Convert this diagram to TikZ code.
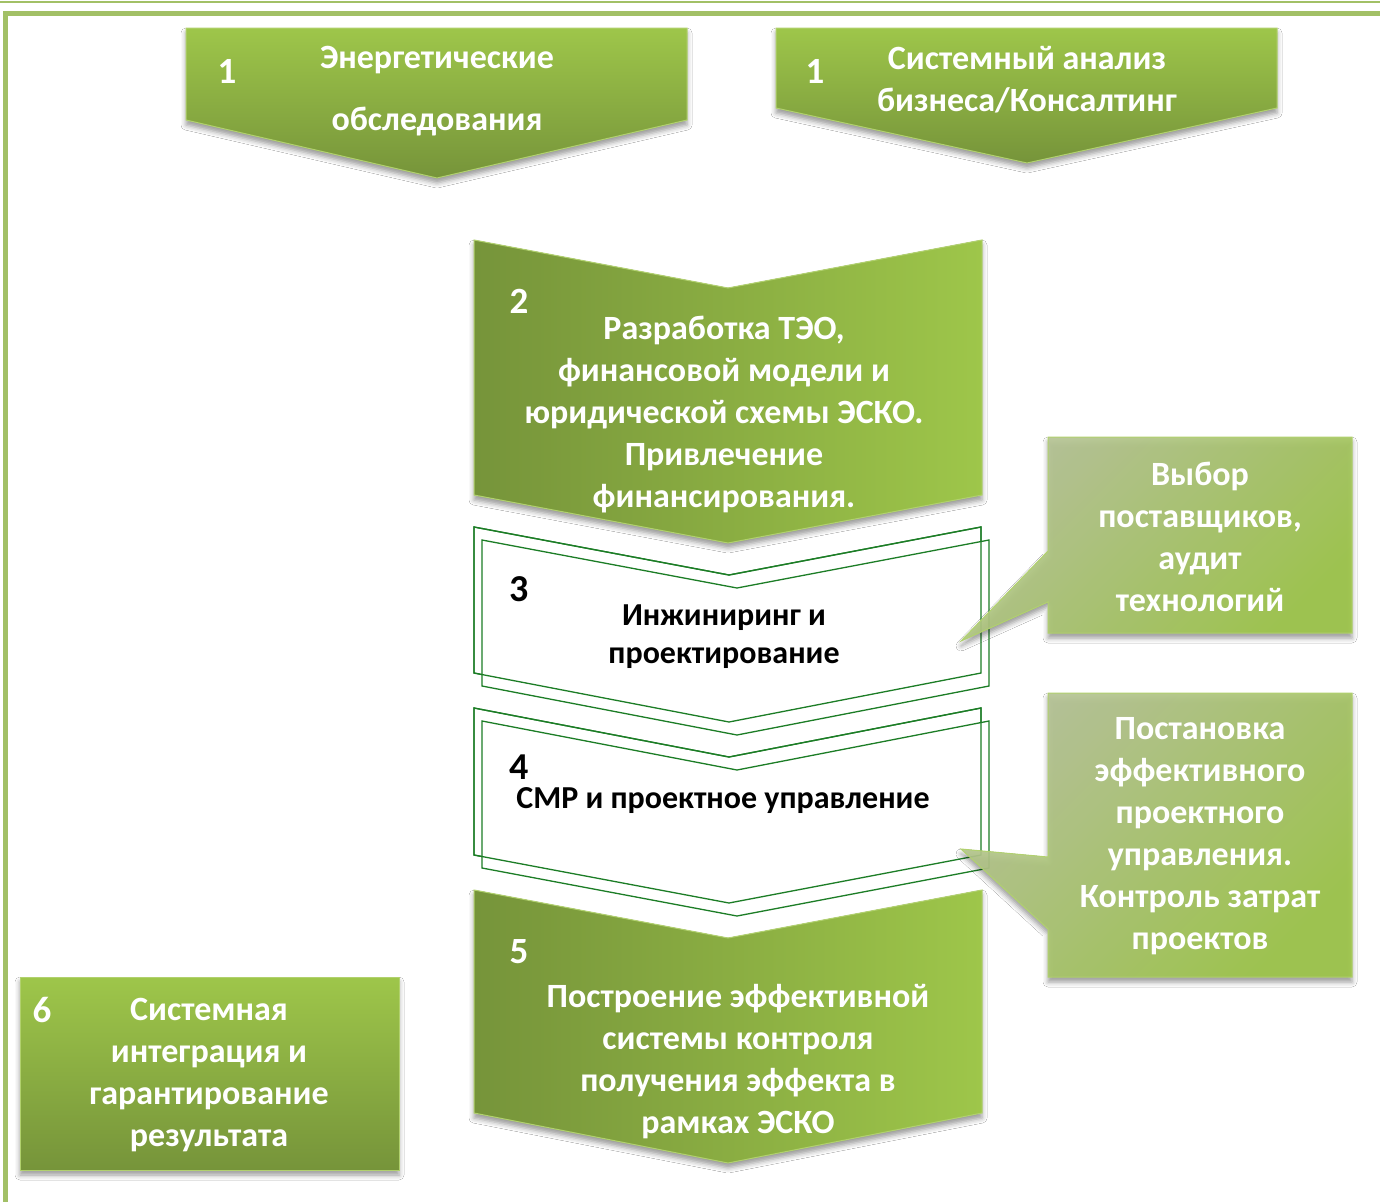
\documentclass[tikz,border=0pt]{standalone}
\usepackage{fontspec}
\setmainfont{Carlito}
\usetikzlibrary{shadows.blur,backgrounds}
\definecolor{gdark}{RGB}{118,148,58}
\definecolor{glight}{RGB}{158,198,74}
\definecolor{ggrey}{RGB}{182,196,150}
\definecolor{frameg}{RGB}{162,192,102}
\definecolor{outg}{RGB}{28,125,38}
\tikzset{
  softshadow/.style={blur shadow={shadow xshift=0pt, shadow yshift=-5pt,
      shadow blur radius=5pt, shadow opacity=40}},
  vchev/.style={top color=glight, bottom color=gdark, draw=glight!80!white,
      line width=1pt, softshadow},
  hchev/.style={left color=gdark, right color=glight, draw=glight!80!white,
      line width=1pt, softshadow},
  outline/.style={draw=outg, line width=1.3pt, fill=white},
  callout/.style={top color=ggrey, bottom color=glight, shading angle=45,
      draw=glight!80!white, line width=1pt, softshadow, fill opacity=0.92},
  wtext/.style={text=white, font=\bfseries\fontsize{34}{42}\selectfont,
      align=center, inner sep=0pt},
  btext/.style={text=black, font=\bfseries\fontsize{32}{38}\selectfont,
      align=center, inner sep=0pt},
  wnum/.style={text=white, font=\bfseries\fontsize{37}{40}\selectfont, inner sep=0pt},
  bnum/.style={text=black, font=\bfseries\fontsize{38}{40}\selectfont, inner sep=0pt},
}
\begin{document}
\begin{tikzpicture}[x=1pt,y=-1pt]
\useasboundingbox (0,0) rectangle (1380,1202);
\fill[white] (0,0) rectangle (1380,1202);

% page frame
\draw[frameg, line width=2.5pt] (0,2) -- (1380,2);
\draw[frameg, line width=4.5pt] (1380,13.5) -- (5.5,13.5) -- (5.5,1202);

% step 1: two starting chevrons
\path[vchev] (186,28) -- (687,28) -- (687,120) -- (437,178) -- (186,120) -- cycle;
\path[vchev] (776,28) -- (1277,28) -- (1277,108) -- (1027,163) -- (776,108) -- cycle;
\node[wnum] (n1a) at (227,71) {1};
\node[wtext, font=\bfseries\fontsize{34}{62}\selectfont] (t1a) at (437,91)
  {Энергетические\\обследования};
\node[wnum] (n1b) at (815,71) {1};
\node[wtext] (t1b) at (1027,80) {Системный анализ\\бизнеса/Консалтинг};

% step 2
\path[hchev] (474,240) -- (728,288) -- (982,240) -- (982,495) -- (728,543) -- (474,495) -- cycle;
\node[wnum] (n2) at (519,301) {2};
\node[wtext] (t2) at (724,414.5)
  {Разработка ТЭО,\\финансовой модели и\\юридической схемы ЭСКО.\\Привлечение\\финансирования.};

% step 3 (double outline)
\path[outline] (474,527) -- (729,575) -- (981,527) -- (981,673) -- (729,722) -- (474,673) -- cycle;
\path[outline] (482,540) -- (737,588) -- (989,540) -- (989,686) -- (737,735) -- (482,686) -- cycle;
\draw[outg, line width=1.3pt] (474,527) -- (729,575) -- (981,527) -- (981,673) -- (729,722) -- (474,673) -- cycle;
\node[bnum] (n3) at (519,589) {3};
\node[btext] (t3) at (724,637) {Инжиниринг и\\проектирование};

% step 4 (double outline)
\path[outline] (474,708) -- (729,757) -- (981,708) -- (981,855) -- (729,903) -- (474,855) -- cycle;
\path[outline] (482,721) -- (737,770) -- (989,721) -- (989,868) -- (737,916) -- (482,868) -- cycle;
\draw[outg, line width=1.3pt] (474,708) -- (729,757) -- (981,708) -- (981,855) -- (729,903) -- (474,855) -- cycle;
\node[bnum] (n4) at (519,767) {4};
\node[btext] (t4) at (723,801) {СМР и проектное управление};

% step 5
\path[hchev] (474,890) -- (728,938) -- (982,890) -- (982,1113) -- (728,1163) -- (474,1113) -- cycle;
\node[wnum] (n5) at (519,952) {5};
\node[wtext] (t5) at (738,1062)
  {Построение эффективной\\системы контроля\\получения эффекта в\\рамках ЭСКО};

% step 6
\path[vchev] (20,977) rectangle (399,1170);
\node[wnum] (n6) at (42,1010) {6};
\node[wtext] (t6) at (209,1075.5)
  {Системная\\интеграция и\\гарантирование\\результата};

% callouts pointing into steps 3 and 4
\coordinate (tip1) at (961,641);
\coordinate (tip2) at (961,849);
\path[callout] (1048,437) -- (1352,437) -- (1352,633) -- (1048,633) -- (1048,602)
  -- (tip1) -- (1048,551) -- cycle;
\node[wtext] (c1) at (1200,536.5) {Выбор\\поставщиков,\\аудит\\технологий};
\path[callout] (1048,693) -- (1352,693) -- (1352,977) -- (1048,977) -- (1048,929)
  -- (tip2) -- (1048,857) -- cycle;
\node[wtext] (c2) at (1200,836.5)
  {Постановка\\эффективного\\проектного\\управления.\\Контроль затрат\\проектов};
\end{tikzpicture}
\end{document}
